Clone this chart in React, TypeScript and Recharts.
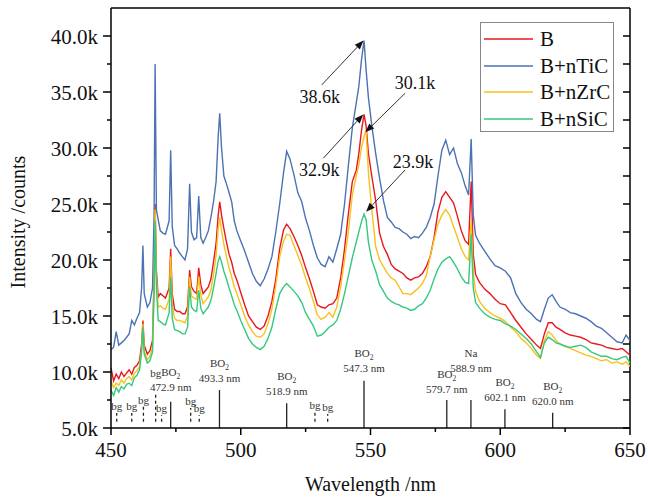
import React from "react";
import { LineChart, Line, XAxis, YAxis, ReferenceLine, Legend, Label } from "recharts";

const FONT = '"Liberation Serif", "Times New Roman", serif';

// wavelength grid (nm)
const wavelength = [
  450, 451, 452, 453, 454, 455, 456, 457, 458, 459, 460, 461, 461.8, 462.3, 462.8, 464, 465, 466,
  466.6, 467, 467.5, 468.2, 469, 470, 471, 472.4, 473, 473.6,
  474.5, 475.5, 476.5, 477.5, 478.5, 479.5, 480.3, 481, 482, 483, 483.8, 484.6, 485.5, 486.5, 487.5, 488.5, 489.5, 490.5, 491.3,
  491.9, 492.6, 493.5, 494.5, 495.5, 496.5, 497.5, 498.5, 500, 501.5, 503, 504.5, 506, 507.5, 509, 510.5, 512, 513.5, 515, 516.5,
  517.7, 519, 520.5, 522, 523.5, 525, 526.5, 528, 529.5, 531, 532.5, 534, 535.5, 537, 538.5, 540, 541.5, 543, 544.5, 545.5, 546.5,
  547.5, 548.3, 549.2, 550.5, 552, 553.5, 555, 556.5, 558, 559.5, 561, 562.5, 564, 565.5, 567, 568.5, 570, 571.5, 573, 574.5, 576, 577.5, 579, 580.5, 582, 583.5, 585, 586.5, 587.8,
  588.8, 589.6, 590.5, 592, 594, 596, 598, 600, 602, 604, 606, 608, 610, 612, 614, 615.5, 617, 618.5, 620, 621.5, 623, 625, 627, 629, 631, 633, 635, 637, 639, 641, 643, 645, 647, 648.5, 650,
];

// intensities in k counts
const intensityB = [
  10.4, 9.2, 9.8, 9.4, 10.0, 9.6, 9.9, 10.2, 9.8, 10.4, 10.6, 11.0, 12.5, 14.6, 12.4, 11.6, 11.9, 12.8,
  18.5, 25.0, 19.0, 16.7, 17.0, 16.8, 16.6, 17.5, 21.0, 17.0,
  15.6, 15.4, 15.4, 15.2, 15.2, 15.8, 19.1, 17.6, 17.2, 17.0, 19.3, 17.8, 17.0, 17.3, 17.6, 18.3, 19.8, 21.5, 24.0,
  25.2, 24.0, 22.8, 21.6, 20.5, 19.8, 18.8, 18.2, 17.1, 16.0, 15.0, 14.5, 14.0, 13.8, 14.1, 15.0, 16.3, 18.3, 21.0, 22.7,
  23.2, 22.8, 22.1, 21.3, 20.4, 19.3, 18.3, 17.2, 16.0, 15.8, 15.7, 16.0, 16.1, 16.6, 18.4, 21.0, 24.2, 27.0, 28.0, 29.5, 31.5,
  33.0, 32.0, 29.5, 27.5, 25.3, 22.4, 21.2, 20.5, 19.6, 19.2, 19.0, 18.8, 18.4, 18.2, 18.4, 18.5, 18.8, 19.4, 20.3, 22.0, 24.3, 25.6, 26.1, 25.6, 25.1, 23.9, 22.6, 21.7, 21.4,
  27.0, 20.5, 18.7, 18.0, 17.4, 17.0, 16.5, 16.1, 16.0, 15.3, 14.6, 14.0, 13.4, 12.9, 12.4, 12.1, 13.4, 14.4, 14.4, 14.0, 13.8, 13.5, 13.3, 13.2, 13.1, 12.9, 12.6, 12.5, 12.4, 12.2, 12.1, 12.0, 12.1, 11.8, 11.5,
];

const intensityTiC = [
  12.0, 12.2, 13.6, 12.4, 12.6, 12.8, 13.1, 13.4, 14.6, 14.2, 14.8, 15.3, 17.5, 21.3, 17.0, 15.8, 16.2, 17.5,
  24.0, 37.5, 24.5, 23.6, 22.6, 22.4, 22.3, 23.5, 29.8, 23.0,
  21.3, 21.0, 20.6, 20.3, 20.0, 21.0, 26.8, 22.5, 21.8, 22.0, 25.7, 22.0, 21.5, 22.0, 22.6, 23.8, 25.2, 27.0, 31.0,
  33.1, 30.0, 27.5, 26.8, 26.0, 25.2, 23.5, 22.6, 21.7, 20.8, 19.8, 18.8, 18.1, 17.7, 18.3, 19.2, 20.3, 22.5, 25.0, 27.8,
  29.7, 29.0, 27.6, 26.0, 25.2, 23.7, 22.6, 21.3, 20.2, 19.6, 19.4, 20.3, 19.8, 21.0, 22.3, 25.0, 28.5, 31.8, 34.0, 35.5, 37.8,
  39.6, 37.0, 34.5, 32.0, 29.5, 27.3, 25.3, 23.8, 23.4, 22.9, 22.8, 22.5, 22.3, 21.9, 22.1, 22.0, 22.4, 22.9, 23.8, 25.0, 27.5, 29.8, 30.7, 29.4, 30.0, 28.6, 27.8, 26.6, 25.8,
  30.8, 24.0, 22.2, 21.5, 20.8, 20.1, 19.5, 19.3, 19.0, 18.4, 17.0, 16.2, 15.6, 15.2, 14.7, 14.5, 15.6, 16.6, 16.9, 16.3, 15.8, 15.6, 15.3, 15.2, 15.0, 14.8, 14.5, 14.1, 13.9, 13.5, 13.1, 12.7, 12.6, 13.3, 12.8,
];

const intensityZrC = [
  9.2, 8.6, 9.0, 8.8, 9.3, 9.0, 9.4, 9.6, 9.3, 9.9, 10.1, 10.5, 12.0, 14.3, 11.9, 11.1, 11.4, 12.2,
  18.0, 24.5, 18.5, 15.8, 15.9, 15.7, 15.6, 16.5, 20.3, 16.0,
  14.8, 14.6, 14.6, 14.5, 14.4, 15.0, 18.5, 16.8, 16.6, 16.5, 18.5, 16.9, 16.1, 16.4, 16.7, 17.3, 18.7, 20.4, 22.8,
  23.8, 22.6, 21.4, 20.3, 19.3, 18.5, 17.6, 17.0, 16.0, 15.0, 14.2, 13.6, 13.2, 13.1, 13.4, 14.3, 15.6, 17.7, 20.3, 21.7,
  22.3, 22.2, 21.3, 20.4, 19.5, 18.4, 17.4, 16.3, 15.1, 14.7, 14.9, 15.3, 14.9, 15.8, 17.6, 20.0, 22.6, 25.8, 27.5, 28.5, 30.0,
  31.0, 31.6, 27.8, 24.5, 21.2, 20.0, 19.4, 18.8, 18.4, 18.2, 17.6, 17.0, 17.0, 16.9, 17.2, 17.5, 17.9, 18.6, 20.3, 21.8, 23.2, 24.0, 24.5, 24.0, 23.0, 22.0, 21.0, 20.3, 20.0,
  23.5, 18.8, 17.2, 16.3, 15.7, 15.3, 15.0, 14.8, 14.5, 14.0, 13.6, 13.0, 12.6, 12.1, 11.5, 11.2, 12.8, 13.6, 13.3, 12.8, 12.5, 12.3, 12.1, 11.9, 11.7, 11.5, 11.4, 11.2, 11.0, 11.1, 10.8, 10.9, 10.7, 10.9, 10.5,
];

const intensitySiC = [
  8.4, 7.9, 8.6, 8.2, 8.7, 8.5, 8.9, 9.0, 8.8, 9.5, 9.7, 10.2, 11.8, 14.0, 11.6, 10.8, 11.0, 11.8,
  17.0, 23.5, 17.5, 14.6, 14.5, 14.3, 14.2, 15.3, 18.5, 14.8,
  13.8, 13.7, 13.6, 13.4, 13.4, 14.0, 17.6, 15.8, 15.5, 15.4, 17.3, 15.7, 15.2, 15.5, 15.8, 16.4, 17.5, 18.8, 19.9,
  20.3, 19.8, 19.0, 18.3, 17.5, 16.8, 16.0, 15.5, 14.6, 13.8, 13.0, 12.5, 12.2, 12.0, 12.3, 13.0, 14.0, 15.6, 17.0, 17.6,
  17.9, 17.6, 17.2, 16.8, 16.2, 15.3, 14.7, 14.1, 13.2, 13.3, 13.6, 14.0, 14.2, 14.6, 15.6, 17.0, 18.6, 20.2, 21.6, 22.5, 23.4,
  24.1, 23.6, 21.6, 20.0, 19.0, 17.8, 17.2, 16.6, 16.3, 16.1, 16.0, 15.8, 15.7, 15.5, 15.6, 15.9, 16.1, 16.6, 17.3, 18.3, 19.2, 19.8, 20.1, 20.3, 19.8, 19.2, 18.5, 18.0, 17.9,
  22.3, 17.5, 16.2, 15.7, 15.2, 14.9, 14.7, 14.6, 14.3, 14.1, 13.8, 13.4, 13.0, 12.5, 11.8, 11.3, 12.6, 13.1, 12.9, 12.6, 12.5, 12.3, 12.2, 12.3, 12.4, 12.2, 11.8, 11.6, 11.4, 11.4, 11.2, 11.1, 11.3, 11.4, 10.8,
];

const seriesKeys = ["b", "tic", "zrc", "sic"];
const seriesNames = ["B", "B+nTiC", "B+nZrC", "B+nSiC"];
const seriesColors = ["#e8171d", "#4c72b4", "#f7c21b", "#35c97e"];

const xMin = 450;
const xMax = 650;
const yMin = 5;
const yMax = 42.5;
const xTicks = [450, 475, 500, 525, 550, 575, 600, 625, 650];
const yTicks = [5, 7.5, 10, 12.5, 15, 17.5, 20, 22.5, 25, 27.5, 30, 32.5, 35, 37.5, 40];

// emission lines (solid markers at the bottom)
const emissionNm = [473.0, 491.8, 517.7, 547.5, 579.4, 588.7, 601.8, 620.2];
const emissionTop = [7.35, 8.39, 7.21, 9.22, 7.5, 7.5, 6.67, 6.37];
const emissionSpecies = ["BO2", "BO2", "BO2", "BO2", "BO2", "Na", "BO2", "BO2"];
const emissionLabel = ["472.9 nm", "493.3 nm", "518.9 nm", "547.3 nm", "579.7 nm", "588.9 nm", "602.1 nm", "620.0 nm"];
const emissionLift = [3, 0, 0, 1, -1, 20, 0, 0];

// background markers (dashed)
const bgNm = [452.2, 458.0, 462.5, 467.2, 469.5, 480.7, 484.0, 528.6, 533.5];
const bgTop = [6.34, 6.34, 6.9, 8.13, 6.16, 6.79, 6.16, 6.46, 6.25];
const bgBottom = 5.55;
const bgLift = [0, 0, 0, 13, 0, 0, 0, 0, 0];

// peak callouts
const calloutText = ["38.6k", "32.9k", "30.1k", "23.9k"];
const calloutTail = [
  { x: 531.2, y: 35.63 },
  { x: 531.8, y: 29.08 },
  { x: 563.3, y: 34.88 },
  { x: 563.3, y: 28.04 },
];
const calloutHead = [
  { x: 547.3, y: 39.6 },
  { x: 547.2, y: 33.0 },
  { x: 548.0, y: 31.4 },
  { x: 548.3, y: 24.3 },
];
const calloutDx = [-2, -4, 10, 8];
const calloutDy = [18, 18, -4, -2];

const rows = wavelength.map((nm, i) => ({
  nm,
  b: intensityB[i],
  tic: intensityTiC[i],
  zrc: intensityZrC[i],
  sic: intensitySiC[i],
}));

const XTick = (props: any) => {
  const { x, y, payload } = props;
  const major = payload.value % 50 === 0;
  return (
    <g>
      <line x1={x} y1={y} x2={x} y2={y + (major ? 7 : 4)} stroke="#000" strokeWidth={1.5} />
      {major && (
        <text x={x} y={y + 29} textAnchor="middle" fontSize={21} fontFamily={FONT} fill="#111">
          {payload.value}
        </text>
      )}
    </g>
  );
};

const YTick = (props: any) => {
  const { x, y, payload } = props;
  const major = payload.value % 5 === 0;
  return (
    <g>
      <line x1={x - (major ? 8 : 4)} y1={y} x2={x} y2={y} stroke="#000" strokeWidth={1.5} />
      {major && (
        <text x={x - 13} y={y + 7.5} textAnchor="end" fontSize={21} fontFamily={FONT} fill="#111">
          {payload.value.toFixed(1) + "k"}
        </text>
      )}
    </g>
  );
};

// right frame edge with inward ticks at the same values as the left axis
const rightFrameShape = (p: any) => {
  const { x1, y1, x2, y2 } = p;
  const top = Math.min(y1, y2);
  const bottom = Math.max(y1, y2);
  const pxPerUnit = (bottom - top) / (yMax - yMin);
  return (
    <g>
      <line x1={x1} y1={top} x2={x2} y2={bottom} stroke="#000" strokeWidth={1.5} />
      {yTicks.map((t) => {
        const ty = bottom - (t - yMin) * pxPerUnit;
        return <line key={t} x1={x1 - 7} y1={ty} x2={x1} y2={ty} stroke="#000" strokeWidth={1.5} />;
      })}
    </g>
  );
};

const speciesText = (s: string) =>
  s === "BO2" ? (
    <>
      <tspan>BO</tspan>
      <tspan fontSize={7.5} dy={3}>2</tspan>
    </>
  ) : (
    s
  );

const emissionShape = (i: number) => (p: any) => {
  const { x1, y1, x2, y2 } = p;
  const top = Math.min(y1, y2) - emissionLift[i];
  return (
    <g>
      <line x1={x1} y1={y1} x2={x2} y2={y2} stroke="#222" strokeWidth={1.3} />
      <text x={x1} y={top - 23} textAnchor="middle" fontSize={11} fontFamily={FONT} fill="#333">
        {speciesText(emissionSpecies[i])}
      </text>
      <text x={x1} y={top - 8} textAnchor="middle" fontSize={11} fontFamily={FONT} fill="#333">
        {emissionLabel[i]}
      </text>
    </g>
  );
};

const bgShape = (i: number) => (p: any) => {
  const { x1, y1, x2, y2 } = p;
  const top = Math.min(y1, y2) - bgLift[i];
  return (
    <g>
      <line x1={x1} y1={y1} x2={x2} y2={y2} stroke="#222" strokeWidth={1.3} strokeDasharray="3 3" />
      <text x={x1} y={top - 3} textAnchor="middle" fontSize={11} fontFamily={FONT} fill="#333">
        bg
      </text>
    </g>
  );
};

const calloutShape = (i: number) => (p: any) => {
  const { x1, y1, x2, y2 } = p;
  const ang = Math.atan2(y2 - y1, x2 - x1);
  const len = 9;
  const half = 3.5;
  const bx = x2 - len * Math.cos(ang);
  const by = y2 - len * Math.sin(ang);
  const pts = `${x2},${y2} ${bx - half * Math.sin(ang)},${by + half * Math.cos(ang)} ${bx + half * Math.sin(ang)},${by - half * Math.cos(ang)}`;
  return (
    <g>
      <line x1={x1} y1={y1} x2={bx} y2={by} stroke="#333" strokeWidth={1} />
      <polygon points={pts} fill="#111" />
      <text x={x1 + calloutDx[i]} y={y1 + calloutDy[i]} textAnchor="middle" fontSize={18} fontFamily={FONT} fill="#111">
        {calloutText[i]}
      </text>
    </g>
  );
};

const renderLegend = () => (
  <div
    style={{
      width: 134,
      height: 110,
      border: "1px solid #888",
      boxSizing: "border-box",
      background: "#fff",
      fontFamily: FONT,
      fontSize: 21,
      color: "#111",
      paddingTop: 3,
    }}
  >
    {seriesNames.map((name, i) => (
      <div key={name} style={{ display: "flex", alignItems: "center", height: 26.5, lineHeight: "26.5px" }}>
        <svg width={57} height={10} style={{ marginLeft: 2 }}>
          <line x1={1} y1={5} x2={50} y2={5} stroke={seriesColors[i]} strokeWidth={1.5} />
        </svg>
        <span>{name}</span>
      </div>
    ))}
  </div>
);

export default function App() {
  return (
    <div style={{ position: "absolute", left: 0, top: 0, width: 648, height: 502, background: "#fff" }}>
      <LineChart width={648} height={502} data={rows} margin={{ top: 8, right: 18, bottom: 0, left: 0 }}>
        <XAxis
          dataKey="nm"
          type="number"
          domain={[xMin, xMax]}
          ticks={xTicks}
          interval={0}
          height={74}
          tickSize={0}
          tickMargin={0}
          tickLine={false}
          tick={<XTick />}
          axisLine={{ stroke: "#000", strokeWidth: 1.5 }}
          allowDataOverflow
        >
          <Label
            value="Wavelength /nm"
            position="insideBottom"
            offset={11}
            style={{ fontFamily: FONT, fontSize: 20, fill: "#111" }}
          />
        </XAxis>
        <YAxis
          type="number"
          domain={[yMin, yMax]}
          ticks={yTicks}
          interval={0}
          width={111}
          tickSize={0}
          tickMargin={0}
          tickLine={false}
          tick={<YTick />}
          axisLine={{ stroke: "#000", strokeWidth: 1.5 }}
          allowDataOverflow
        >
          <Label
            content={(props: any) => {
              const vb = props.viewBox;
              const cx = vb.x + 25;
              const cy = vb.y + vb.height / 2 + 4;
              return (
                <text
                  transform={`translate(${cx},${cy}) rotate(-90)`}
                  textAnchor="middle"
                  fontFamily={FONT}
                  fontSize={20}
                  fill="#111"
                >
                  Intensity /counts
                </text>
              );
            }}
          />
        </YAxis>

        {/* top and right frame */}
        <ReferenceLine y={yMax} stroke="#000" strokeWidth={1.5} />
        <ReferenceLine x={xMax} shape={rightFrameShape} />

        {emissionNm.map((nm, i) => (
          <ReferenceLine
            key={"em" + i}
            segment={[
              { x: nm, y: yMin },
              { x: nm, y: emissionTop[i] },
            ]}
            shape={emissionShape(i)}
          />
        ))}
        {bgNm.map((nm, i) => (
          <ReferenceLine
            key={"bg" + i}
            segment={[
              { x: nm, y: bgBottom },
              { x: nm, y: bgTop[i] },
            ]}
            shape={bgShape(i)}
          />
        ))}

        {seriesKeys.map((k, i) => (
          <Line
            key={k}
            type="linear"
            dataKey={k}
            name={seriesNames[i]}
            stroke={seriesColors[i]}
            strokeWidth={1.4}
            dot={false}
            activeDot={false}
            isAnimationActive={false}
          />
        ))}

        {calloutText.map((t, i) => (
          <ReferenceLine
            key={"co" + i}
            segment={[calloutTail[i], calloutHead[i]]}
            shape={calloutShape(i)}
          />
        ))}

        <Legend
          layout="vertical"
          align="center"
          verticalAlign="middle"
          content={renderLegend}
          wrapperStyle={{ left: 480, top: 22, width: 134, height: 110 }}
        />
      </LineChart>
    </div>
  );
}
